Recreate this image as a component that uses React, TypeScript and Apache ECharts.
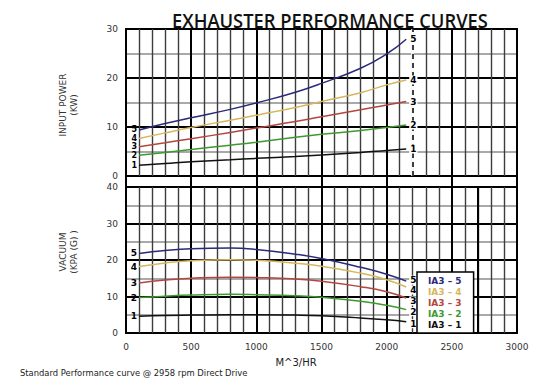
import React, { useEffect, useRef } from "react";
import * as echarts from "echarts";

// ---- data ----
const flowTop = [100, 300, 500, 800, 1000, 1300, 1500, 1800, 2000, 2150];
const power5 = [9.4, 10.7, 11.9, 13.6, 14.9, 17.1, 18.9, 22.0, 24.9, 27.9];
const power4 = [7.65, 8.8, 9.9, 11.4, 12.4, 14.0, 15.2, 17.0, 18.6, 19.6];
const power3 = [5.95, 6.8, 7.6, 8.9, 9.8, 11.1, 12.1, 13.5, 14.5, 15.2];
const power2 = [4.25, 4.8, 5.4, 6.3, 6.9, 7.9, 8.5, 9.3, 9.9, 10.4];
const power1 = [2.2, 2.55, 2.9, 3.3, 3.6, 4.0, 4.3, 4.8, 5.2, 5.5];

const flowBottom = [100, 300, 500, 800, 1000, 1300, 1500, 1800, 2000, 2150];
const vac5 = [21.8, 22.6, 23.1, 23.3, 22.9, 21.6, 20.4, 18.0, 16.1, 14.2];
const vac4 = [18.2, 19.2, 19.8, 20.1, 19.9, 19.1, 18.3, 16.4, 14.6, 12.6];
const vac3 = [13.7, 14.5, 15.0, 15.3, 15.2, 14.8, 14.2, 12.7, 11.3, 9.6];
const vac2 = [9.7, 10.1, 10.4, 10.6, 10.5, 10.2, 9.8, 8.7, 7.6, 6.4];
const vac1 = [4.6, 4.8, 4.9, 5.0, 5.0, 4.9, 4.7, 4.1, 3.6, 3.1];

const curveIds = ["5", "4", "3", "2", "1"];
const curveNames = ["IA3 – 5", "IA3 – 4", "IA3 – 3", "IA3 – 2", "IA3 – 1"];
const curveColors = ["#2b2a78", "#d8b65e", "#b3463e", "#3e9a2e", "#111111"];
const powerData = [power5, power4, power3, power2, power1];
const vacData = [vac5, vac4, vac3, vac2, vac1];
// vertical nudges of the right-hand curve numbers in the vacuum chart
const vacEndNudge = [-1, 3, 3, 2, 2];

const titleText = "EXHAUSTER PERFORMANCE CURVES";
const captionText = "Standard Performance curve @ 2958 rpm Direct Drive";
const FONT = "DejaVu Sans";

function fitScale(text: string, font: string, target: number) {
  const ctx = document.createElement("canvas").getContext("2d");
  if (!ctx) return 1;
  ctx.font = font;
  const w = ctx.measureText(text).width;
  return w > 0 ? target / w : 1;
}

export default function App() {
  const ref = useRef<HTMLDivElement>(null);
  useEffect(() => {
    if (!ref.current) return;
    const chart = echarts.init(ref.current, undefined, { renderer: "svg" });

    const xCommon = {
      type: "value",
      min: 0,
      max: 3000,
      interval: 500,
      axisLine: { show: false },
      axisTick: { show: false },
      splitLine: { show: true, lineStyle: { color: "#000", width: 2 } },
    };
    const minorX = {
      minorTick: { show: false, splitNumber: 5 },
      minorSplitLine: { show: true, lineStyle: { color: "#3c3c3c", width: 1.4 } },
    };
    const yCommon = (max: number) => ({
      type: "value",
      min: 0,
      max,
      interval: 10,
      axisLine: { show: false },
      axisTick: { show: false },
      axisLabel: { color: "#333", fontSize: 9, fontFamily: FONT, margin: 8 },
      splitLine: { show: true, lineStyle: { color: "#000", width: 2 } },
      minorTick: { show: false, splitNumber: 2 },
      minorSplitLine: { show: true, lineStyle: { color: "#8c8c8c", width: 1.5 } },
      nameLocation: "middle",
      nameRotate: 90,
      nameGap: 47,
    });

    const series: any[] = [];
    const mk = (
      idx: number,
      xs: number[],
      ys: number[],
      axis: number,
      startFont: number,
      endOffsetY: number,
      extra: any
    ) => ({
      name: curveNames[idx],
      type: "line",
      xAxisIndex: axis,
      yAxisIndex: axis,
      smooth: true,
      showSymbol: true,
      symbol: "circle",
      symbolSize: 0,
      z: 3,
      color: curveColors[idx],
      lineStyle: { color: curveColors[idx], width: 1.5 },
      label: { show: false },
      data: xs.map((x, i) =>
        i === 0
          ? {
              value: [x, ys[i]],
              label: {
                show: true,
                position: "left",
                distance: 2,
                formatter: curveIds[idx],
                color: "#000",
                fontWeight: "bold",
                fontSize: startFont,
                fontFamily: FONT,
                lineHeight: startFont,
              },
            }
          : [x, ys[i]]
      ),
      endLabel: {
        show: true,
        formatter: curveIds[idx],
        distance: 3,
        offset: [0, endOffsetY],
        color: "#000",
        fontWeight: "bold",
        fontSize: 9,
        fontFamily: FONT,
        backgroundColor: "#fff",
        padding: [0, 1],
      },
      ...extra,
    });

    powerData.forEach((ys, i) => {
      let extra: any = {};
      if (i === 0)
        extra = {
          markLine: {
            silent: true,
            z: 1,
            symbol: "none",
            label: { show: false },
            lineStyle: { color: "#fff", width: 2.5, type: "solid" },
            data: [{ xAxis: 2200 }],
          },
        };
      if (i === 1)
        extra = {
          markLine: {
            silent: true,
            z: 1,
            symbol: "none",
            label: { show: false },
            lineStyle: { color: "#000", width: 1.5, type: [5, 4] },
            data: [{ xAxis: 2200 }],
          },
        };
      series.push(mk(i, flowTop, ys, 0, 8, 0, extra));
    });
    vacData.forEach((ys, i) => {
      let extra: any = {};
      if (i === 0)
        extra = {
          markLine: {
            silent: true,
            z: 1,
            symbol: "none",
            label: { show: false },
            lineStyle: { color: "#000", width: 2, type: "solid" },
            data: [{ xAxis: 2700 }],
          },
        };
      series.push(mk(i, flowBottom, ys, 2, 9, vacEndNudge[i], extra));
    });
    // strip grid placeholder series
    series.push({ type: "line", xAxisIndex: 1, yAxisIndex: 1, data: [], silent: true });

    const titleFont = `600 19px "Open Sans"`;
    const captionFont = `9px "${FONT}"`;
    const titleScale = fitScale(titleText, titleFont, 316);
    const captionScale = fitScale(captionText, captionFont, 228);

    chart.setOption({
      animation: false,
      backgroundColor: "#fff",
      grid: [
        { left: 126, top: 29, width: 391, height: 147, show: true, borderColor: "#000", borderWidth: 2 },
        { left: 126, top: 176, width: 391, height: 11, show: true, borderColor: "#000", borderWidth: 2 },
        { left: 126, top: 187, width: 391, height: 146, show: true, borderColor: "#000", borderWidth: 2 },
      ],
      xAxis: [
        { ...xCommon, ...minorX, gridIndex: 0, axisLabel: { show: false } },
        { ...xCommon, gridIndex: 1, axisLabel: { show: false } },
        {
          ...xCommon,
          ...minorX,
          gridIndex: 2,
          axisLabel: {
            show: true,
            color: "#333",
            fontSize: 9,
            fontFamily: FONT,
            margin: 9,
            formatter: (v: number) => String(v),
          },
          name: "M^3/HR",
          nameLocation: "middle",
          nameGap: 24,
          nameTextStyle: { color: "#222", fontSize: 10, fontFamily: FONT, padding: [0, 51, 0, 0] },
        },
      ],
      yAxis: [
        {
          ...yCommon(30),
          gridIndex: 0,
          name: "INPUT POWER\n(KW)",
          nameTextStyle: { color: "#333", fontSize: 9, fontFamily: FONT, lineHeight: 11, align: "center", padding: [0, 5, 0, 0] },
        },
        { type: "value", gridIndex: 1, min: 0, max: 1, show: false },
        {
          ...yCommon(40),
          gridIndex: 2,
          name: "VACUUM\n(KPA (G) )",
          nameTextStyle: { color: "#333", fontSize: 9, fontFamily: FONT, lineHeight: 11, align: "center", padding: [0, 0, 0, 16] },
        },
      ],
      legend: {
        orient: "vertical",
        left: 417,
        top: 272,
        icon: "rect",
        itemWidth: 0,
        itemHeight: 0,
        itemGap: 0,
        padding: [3, 12, 3, 6],
        backgroundColor: "#fff",
        borderColor: "#000",
        borderWidth: 1.5,
        selectedMode: false,
        data: curveNames.map((n, i) => ({
          name: n,
          textStyle: { color: curveColors[i], fontWeight: "bold", fontSize: 9, fontFamily: FONT, lineHeight: 11 },
        })),
      },
      graphic: [
        {
          type: "text",
          x: 172,
          y: 20,
          scaleX: titleScale,
          style: {
            text: titleText,
            font: titleFont,
            fill: "#111",
            align: "left",
            verticalAlign: "middle",
          },
        },
        {
          type: "text",
          x: 20,
          y: 373,
          scaleX: captionScale,
          style: {
            text: captionText,
            font: captionFont,
            fill: "#222",
            align: "left",
            verticalAlign: "middle",
          },
        },
      ],
      series,
    });
    return () => chart.dispose();
  }, []);
  return (
    <div
      ref={ref}
      style={{ position: "fixed", left: 0, top: 0, width: 545, height: 384 }}
    />
  );
}
